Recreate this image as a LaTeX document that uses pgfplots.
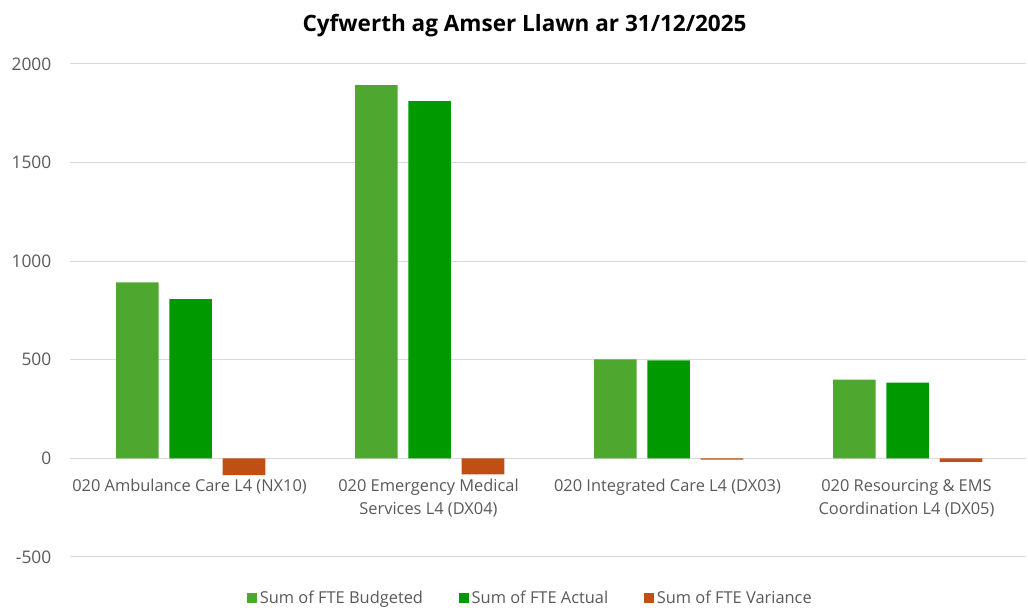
\documentclass[border=0pt]{standalone}
\usepackage{pgfplots}
\pgfplotsset{compat=1.18}
\usepackage{fontspec}
\setmainfont{Open Sans}
\definecolor{cbud}{RGB}{78,167,46}
\definecolor{cact}{RGB}{0,153,0}
\definecolor{cvar}{RGB}{192,79,21}
\definecolor{tgray}{RGB}{89,89,89}
\definecolor{gridc}{RGB}{217,217,217}
\begin{document}
\begin{tikzpicture}
\begin{axis}[
  scale only axis, width=717pt, height=369.75pt,
  xmin=-0.5, xmax=3.5, ymin=-500, ymax=2000,
  ytick={-500,0,500,1000,1500,2000},
  xtick={0,1,2,3},
  xticklabels={{020 Ambulance Care L4 (NX10)},{020 Emergency Medical\\Services L4 (DX04)},{020 Integrated Care L4 (DX03)},{020 Resourcing \& EMS\\Coordination L4 (DX05)}},
  axis line style={draw=none},
  major tick length=0pt,
  ymajorgrids, grid style={gridc, line width=0.75pt},
  /pgf/number format/assume math mode=true,
  /pgf/number format/1000 sep={},
  yticklabel style={font=\fontsize{13}{15}\selectfont, text=tgray, xshift=-10.5pt},
  xticklabel style={font=\fontsize{12.3}{17.6}\selectfont, text=tgray, align=center, anchor=north, yshift=62pt},
  ybar, bar width=0.178,
  legend style={at={(0.482,-0.083)}, anchor=center, legend columns=3, draw=none, fill=none,
    font=\fontsize{12.3}{14}\selectfont\color{tgray},
    /tikz/every even column/.append style={column sep=25pt}},
  legend image code/.code={\fill[#1] (0pt,-3.5pt) rectangle (7.5pt,4pt);},
  clip=false,
]
\addplot[fill=cbud, draw=none, bar shift=-0.218] coordinates {(0,892) (1,1893) (2,502) (3,400)};
\addlegendentry{Sum of FTE Budgeted}
\addplot[fill=cact, draw=none, bar shift=0.005] coordinates {(0,807) (1,1812) (2,497) (3,384)};
\addlegendentry{Sum of FTE Actual}
\addplot[fill=cvar, draw=none, bar shift=0.228] coordinates {(0,-85) (1,-81) (2,-6) (3,-18)};
\addlegendentry{Sum of FTE Variance}
\coordinate (ll) at (rel axis cs:0,0);
\coordinate (ur) at (rel axis cs:1,1);
\node[font=\bfseries\fontsize{16.9}{19}\selectfont, text=black] at (rel axis cs:0.4755,1.078) {Cyfwerth ag Amser Llawn ar 31/12/2025};
\end{axis}
\pgfresetboundingbox
\path ([shift={(-52.5pt,-38.25pt)}]ll) rectangle ([shift={(1.5pt,48pt)}]ur);
\end{tikzpicture}
\end{document}
